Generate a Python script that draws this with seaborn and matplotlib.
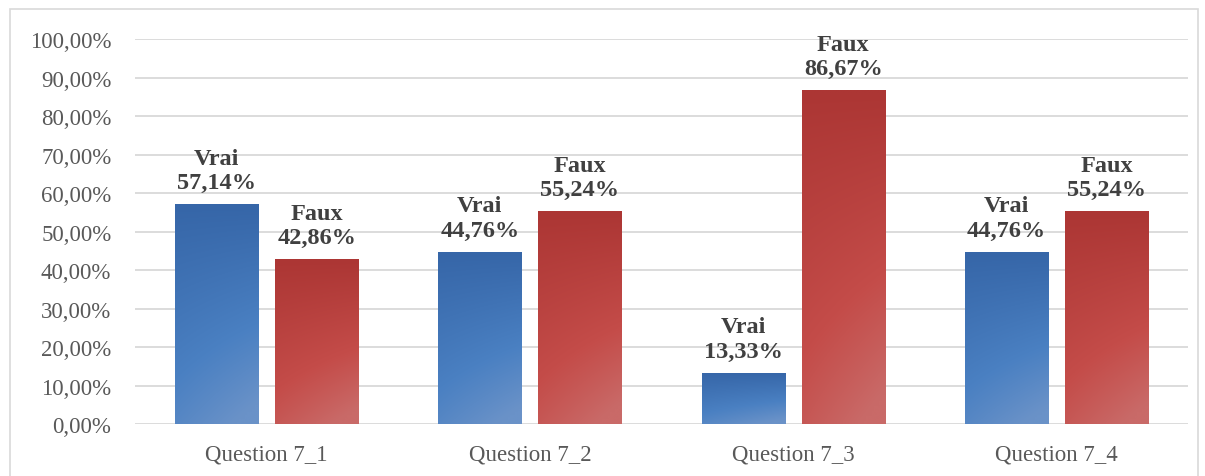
import numpy as np
import pandas as pd
import matplotlib
matplotlib.use("Agg")
import matplotlib.pyplot as plt
from matplotlib.patches import Rectangle
from matplotlib.ticker import FuncFormatter
import seaborn as sns

questions = ["Question 7_1", "Question 7_2", "Question 7_3", "Question 7_4"]
vrai = [57.14, 44.76, 13.33, 44.76]
faux = [42.86, 55.24, 86.67, 55.24]
answers = ["Vrai", "Faux"]

df = pd.DataFrame({
    "question": questions * 2,
    "answer": ["Vrai"] * 4 + ["Faux"] * 4,
    "value": [v / 100 for v in vrai + faux],
})

sns.set_theme(style="white")
plt.rcParams["font.family"] = ["Liberation Serif", "DejaVu Serif"]

fig = plt.figure(figsize=(12.05, 4.77), dpi=100)
ax = fig.add_axes([0.112, 0.109, 0.874, 0.807])

palette = {"Vrai": "#4275b9", "Faux": "#bd4341"}
sns.barplot(data=df, x="question", y="value", hue="answer", order=questions,
            hue_order=answers, palette=palette, width=0.76, gap=0.17,
            ax=ax, legend=False, zorder=3)

# gradient fills: darker at the top, lighter toward the bottom right
grad_colors = {
    "Vrai": ("#3666a8", "#4a80c2", "#6a92c8"),
    "Faux": ("#ac3634", "#c44c49", "#c96a68"),
}
ny, nx = 64, 32
yy, xx = np.mgrid[0:1:ny * 1j, 0:1:nx * 1j]
t = np.clip(0.75 * yy + 0.35 * xx * yy, 0, 1)
for patch, ans in zip(ax.patches, ["Vrai"] * 4 + ["Faux"] * 4):
    c0, c1, c2 = [np.array(matplotlib.colors.to_rgb(c)) for c in grad_colors[ans]]
    img = np.where(t[..., None] < 0.6,
                   c0 + (c1 - c0) * (t[..., None] / 0.6),
                   c1 + (c2 - c1) * ((t[..., None] - 0.6) / 0.4))
    x0, w, h = patch.get_x(), patch.get_width(), patch.get_height()
    im = ax.imshow(img, extent=[x0, x0 + w, 0, h], origin="upper",
                   aspect="auto", zorder=3.5, interpolation="bilinear")
    im.set_clip_path(patch)
    patch.set_edgecolor("none")

ax.set_xlim(-0.5, 3.5)
ax.set_ylim(0, 1.0)
ax.set_yticks(np.arange(0, 1.01, 0.1))
ax.yaxis.set_major_formatter(FuncFormatter(lambda v, _: f"{v * 100:.2f}%".replace(".", ",")))
ax.grid(axis="y", color="#d9d9d9", linewidth=1.3, zorder=0)
ax.set_axisbelow(True)
for s in ax.spines.values():
    s.set_visible(False)
ax.tick_params(axis="both", length=0, labelsize=16.5, colors="#595959")
ax.tick_params(axis="x", pad=14)
ax.tick_params(axis="y", pad=17)
ax.set_xlabel("")
ax.set_ylabel("")

# value labels above each bar
for patch, ans, val in zip(ax.patches, ["Vrai"] * 4 + ["Faux"] * 4, vrai + faux):
    cx = patch.get_x() + patch.get_width() / 2
    ax.annotate(f"{ans}\n{val:.2f}%".replace(".", ","), (cx, val / 100),
                xytext=(0, 8), textcoords="offset points", ha="center", va="bottom",
                fontsize=17.5, fontweight="bold", color="#404040",
                linespacing=1.2, zorder=5)

# outer frame around the chart
fig.patches.append(Rectangle((10 / 1205, -0.05), 1188 / 1205, 1.05 - 10 / 477,
                             transform=fig.transFigure, fill=False,
                             edgecolor="#d9d9d9", linewidth=1.2))

fig.savefig("out.png", dpi=100)
